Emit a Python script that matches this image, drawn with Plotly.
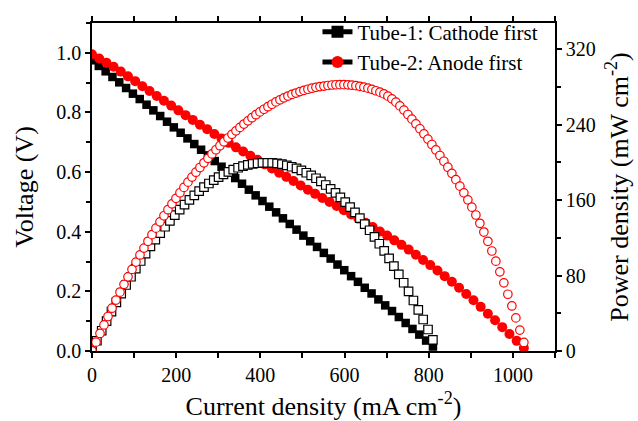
import plotly.graph_objects as go

# ---------------- data ----------------
tube1_v_current = [0, 16.2, 32.4, 48.6, 64.8, 81.0, 97.2, 113.4, 129.6, 145.8, 162.0, 178.2, 194.4,
                   210.6, 226.8, 243.0, 259.2, 275.4, 291.6, 307.8, 324.0, 340.2, 356.4, 372.6, 388.8,
                   405.0, 421.2, 437.4, 453.6, 469.8, 486.0, 502.2, 518.4, 534.6, 550.8, 567.0, 583.2,
                   599.4, 615.6, 631.8, 648.0, 664.2, 680.4, 696.6, 712.8, 729.0, 745.2, 761.4, 777.6,
                   793.8, 810.0]
tube1_voltage = [0.975, 0.956, 0.938, 0.919, 0.901, 0.882, 0.863, 0.845, 0.826, 0.807, 0.788, 0.769,
                 0.750, 0.732, 0.713, 0.694, 0.675, 0.656, 0.637, 0.618, 0.599, 0.580, 0.561, 0.541,
                 0.522, 0.503, 0.484, 0.465, 0.445, 0.426, 0.407, 0.387, 0.368, 0.349, 0.329, 0.310,
                 0.290, 0.271, 0.251, 0.232, 0.212, 0.193, 0.173, 0.153, 0.134, 0.114, 0.094, 0.074,
                 0.055, 0.035, 0.015]

tube1_p_current = [0, 11.6, 23.1, 34.7, 46.3, 57.9, 69.4, 81.0, 92.6, 104.1, 115.7, 127.3, 138.8,
                   150.4, 162.0, 173.6, 185.1, 196.7, 208.3, 219.8, 231.4, 243.0, 254.5, 266.1, 277.7,
                   289.3, 300.8, 312.4, 324.0, 335.5, 347.1, 358.7, 370.2, 381.8, 393.4, 405.0, 416.5,
                   428.1, 439.7, 451.2, 462.8, 474.4, 485.9, 497.5, 509.1, 520.7, 532.2, 543.8, 555.4,
                   566.9, 578.5, 590.1, 601.6, 613.2, 624.8, 636.4, 647.9, 659.5, 671.1, 682.6, 694.2,
                   705.8, 717.3, 728.9, 740.5, 752.1, 763.6, 775.2, 786.8, 798.3, 809.9]
tube1_power = [0, 10.9, 21.5, 31.8, 41.8, 51.5, 60.9, 70.0, 78.8, 87.3, 95.5, 103.3, 110.9, 118.2,
               125.1, 131.8, 138.1, 144.2, 149.9, 155.3, 160.4, 165.2, 169.7, 173.9, 177.7, 181.3,
               184.5, 187.5, 190.1, 192.4, 194.4, 196.1, 197.4, 198.5, 199.2, 199.6, 199.7, 199.5,
               199.0, 198.2, 197.0, 195.5, 193.7, 191.6, 189.1, 186.4, 183.3, 179.9, 176.1, 172.1,
               167.7, 163.0, 158.0, 152.7, 147.0, 141.0, 134.7, 128.1, 121.1, 113.8, 106.2, 98.2,
               90.0, 81.4, 72.4, 63.2, 53.6, 43.7, 33.4, 22.8, 11.9]

tube2_v_current = [0, 17.1, 34.2, 51.3, 68.4, 85.5, 102.6, 119.7, 136.8, 153.9, 171.0, 188.1, 205.2,
                   222.3, 239.4, 256.5, 273.6, 290.7, 307.8, 324.9, 342.0, 359.1, 376.2, 393.3, 410.4,
                   427.5, 444.6, 461.7, 478.8, 495.9, 513.0, 530.1, 547.2, 564.3, 581.4, 598.5, 615.6,
                   632.7, 649.8, 666.9, 684.0, 701.1, 718.2, 735.3, 752.4, 769.5, 786.6, 803.7, 820.8,
                   837.9, 855.0, 872.1, 889.2, 906.3, 923.4, 940.5, 957.6, 974.7, 991.8, 1008.9, 1026.0]
tube2_voltage = [0.995, 0.981, 0.967, 0.953, 0.937, 0.921, 0.905, 0.888, 0.872, 0.855, 0.839, 0.823,
                 0.807, 0.791, 0.775, 0.759, 0.744, 0.728, 0.713, 0.698, 0.683, 0.669, 0.655, 0.641,
                 0.626, 0.612, 0.598, 0.584, 0.570, 0.555, 0.541, 0.527, 0.513, 0.500, 0.486, 0.472,
                 0.458, 0.444, 0.430, 0.416, 0.401, 0.387, 0.371, 0.356, 0.340, 0.323, 0.305, 0.288,
                 0.270, 0.251, 0.232, 0.212, 0.191, 0.170, 0.148, 0.125, 0.103, 0.080, 0.057, 0.034,
                 0.010]

tube2_p_current = [0, 9.5, 19, 28.5, 38, 47.5, 57, 66.5, 76, 85.5, 95, 104.5, 114, 123.5, 133, 142.5,
                   152, 161.5, 171, 180.5, 190, 199.5, 209, 218.5, 228, 237.5, 247, 256.5, 266, 275.5,
                   285, 294.5, 304, 313.5, 323, 332.5, 342, 351.5, 361, 370.5, 380, 389.5, 399, 408.5,
                   418, 427.5, 437, 446.5, 456, 465.5, 475, 484.5, 494, 503.5, 513, 522.5, 532, 541.5,
                   551, 560.5, 570, 579.5, 589, 598.5, 608, 617.5, 627, 636.5, 646, 655.5, 665, 674.5,
                   684, 693.5, 703, 712.5, 722, 731.5, 741, 750.5, 760, 769.5, 779, 788.5, 798, 807.5,
                   817, 826.5, 836, 845.5, 855, 864.5, 874, 883.5, 893, 902.5, 912, 921.5, 931, 940.5,
                   950, 959.5, 969, 978.5, 988, 997.5, 1007, 1016.5, 1026]
tube2_power = [0, 9.4, 18.6, 27.7, 36.6, 45.4, 54.0, 62.4, 70.7, 78.7, 86.6, 94.3, 101.9, 109.2,
               116.4, 123.4, 130.3, 137.0, 143.5, 149.9, 156.1, 162.0, 167.9, 173.6, 179.1, 184.5,
               189.7, 194.7, 199.7, 204.4, 209.1, 213.5, 217.8, 222.0, 226.0, 229.9, 233.6, 237.2,
               240.8, 244.2, 247.5, 250.7, 253.7, 256.5, 259.2, 261.8, 264.3, 266.5, 268.6, 270.5,
               272.2, 273.7, 275.2, 276.5, 277.7, 278.8, 279.7, 280.5, 281.1, 281.7, 282.2, 282.5,
               282.6, 282.6, 282.4, 282.0, 281.5, 280.8, 279.9, 278.9, 277.6, 276.1, 274.6, 272.8,
               270.4, 267.5, 264.0, 260.0, 255.6, 250.9, 246.0, 241.0, 235.8, 230.4, 224.8, 219.1,
               213.3, 207.4, 201.3, 195.0, 188.5, 181.8, 174.9, 167.8, 160.4, 152.6, 144.3, 135.5,
               126.2, 116.4, 106.1, 95.3, 84.0, 72.3, 60.2, 47.8, 35.1, 22.2, 9.1]

legend_names = ["Tube-1: Cathode first", "Tube-2: Anode first"]

# ---------------- figure ----------------
FONT = "Liberation Serif, Times New Roman, serif"
RED = "#ff0000"

fig = go.Figure()

fig.add_trace(go.Scatter(x=tube1_v_current, y=tube1_voltage, mode="markers",
                         marker=dict(symbol="square", size=8.5, color="black",
                                     line=dict(width=0)),
                         showlegend=False))
fig.add_trace(go.Scatter(x=tube2_v_current, y=tube2_voltage, mode="markers",
                         marker=dict(symbol="circle", size=10, color=RED,
                                     line=dict(width=0)),
                         showlegend=False))
fig.add_trace(go.Scatter(x=tube1_p_current, y=tube1_power, mode="markers", yaxis="y2",
                         marker=dict(symbol="square", size=8.5, color="white",
                                     line=dict(width=1.2, color="black")),
                         showlegend=False))
fig.add_trace(go.Scatter(x=tube2_p_current, y=tube2_power, mode="markers", yaxis="y2",
                         marker=dict(symbol="circle", size=8.5, color="white",
                                     line=dict(width=1.2, color=RED)),
                         showlegend=False))

# legend entries (line + symbol, as in the reference legend)
fig.add_trace(go.Scatter(x=[None], y=[None], mode="lines+markers", name=legend_names[0],
                         line=dict(color="black", width=1),
                         marker=dict(symbol="square", size=8, color="black")))
fig.add_trace(go.Scatter(x=[None], y=[None], mode="lines+markers", name=legend_names[1],
                         line=dict(color="black", width=1),
                         marker=dict(symbol="circle", size=9, color=RED)))

axis_common = dict(showline=True, linecolor="black", linewidth=1.5, ticks="outside",
                   ticklen=5, tickwidth=1.5, tickcolor="black", showgrid=False, zeroline=False,
                   automargin=False,
                   tickfont=dict(family=FONT, size=20, color="black"))

fig.update_layout(
    width=638, height=421,
    margin=dict(l=92, r=83, t=12, b=70),
    paper_bgcolor="white", plot_bgcolor="white",
    font=dict(family=FONT, color="black"),
    xaxis=dict(range=[0, 1100], dtick=200, tick0=0, mirror="allticks",
               minor=dict(dtick=100, ticklen=4, tickwidth=1.5, tickcolor="black", ticks="outside"),
               title=dict(text="Current density (mA cm<sup>-2</sup>)",
                          font=dict(family=FONT, size=26, color="black")),
               **axis_common),
    yaxis=dict(range=[0, 1.1], dtick=0.2, tick0=0, tickformat=".1f",
               minor=dict(dtick=0.1, ticklen=4, tickwidth=1.5, tickcolor="black", ticks="outside"),
               title=dict(text="Voltage (V)", font=dict(family=FONT, size=26, color="black")),
               **axis_common),
    yaxis2=dict(range=[0, 348], dtick=80, tick0=0, overlaying="y", side="right",
                minor=dict(dtick=40, ticklen=4, tickwidth=1.5, tickcolor="black", ticks="outside"),
                title=dict(text="Power density (mW cm<sup>-2</sup>)",
                           font=dict(family=FONT, size=26, color="black")),
                **axis_common),
    legend=dict(x=0.487, y=1.035, xanchor="left", yanchor="top", bgcolor="rgba(0,0,0,0)",
                font=dict(family=FONT, size=21, color="black"), tracegroupgap=0,
                itemsizing="constant"),
)

fig.write_html("out.html")
